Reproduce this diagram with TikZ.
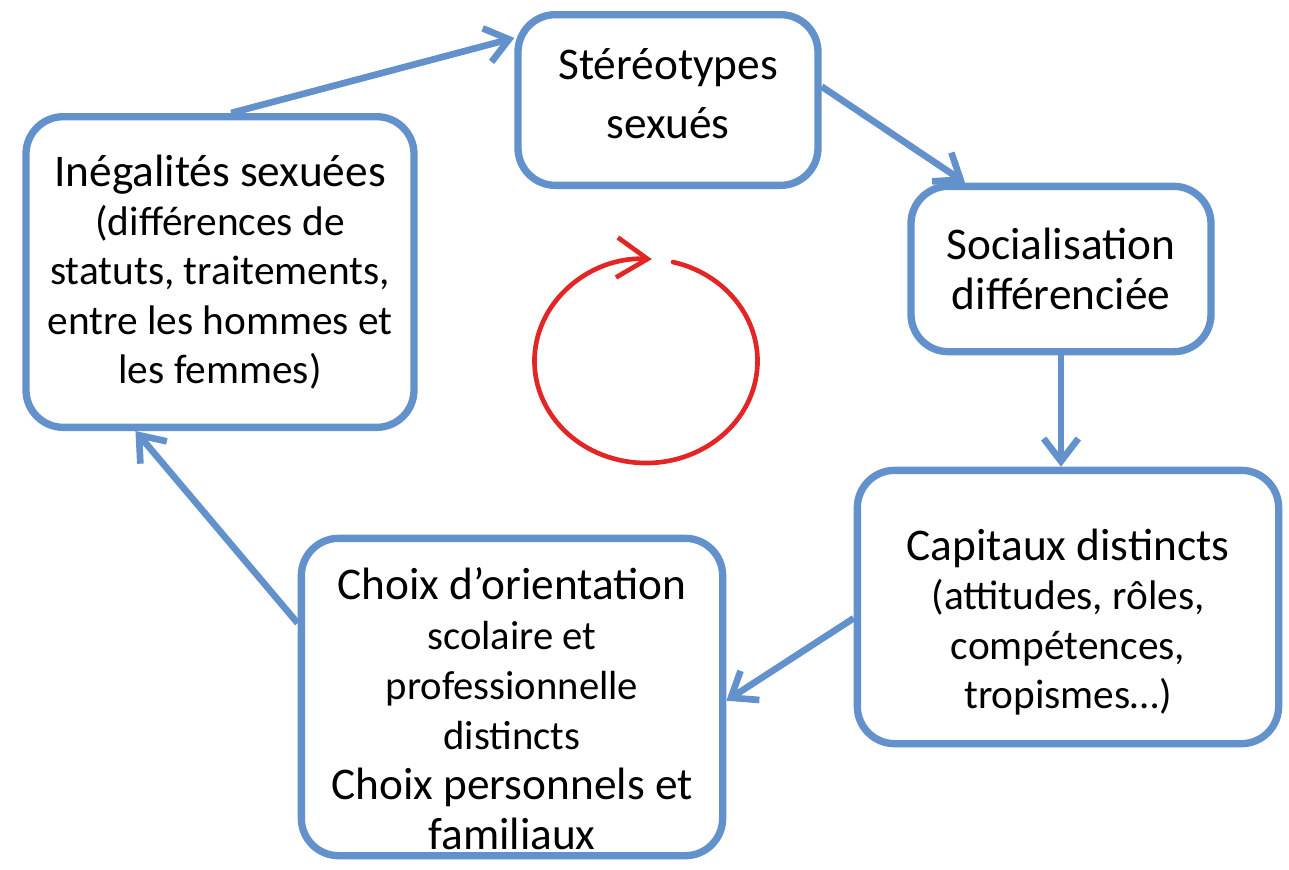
\documentclass[tikz,border=0pt]{standalone}
\usepackage{fontspec}
\setmainfont{Carlito}
\usetikzlibrary{arrows.meta}

\definecolor{bleu}{RGB}{98,145,203}
\definecolor{rouge}{RGB}{226,38,38}

\newcommand{\grand}{\fontsize{34}{37.5}\selectfont}

\tikzstyle{etape} = [draw=bleu, line width=5.5pt, rounded corners=28pt, fill=white, align=center, inner sep=0pt, font=\fontsize{34}{37.5}\selectfont]
\tikzstyle{fleche} = [draw=bleu, line width=5pt, -{Straight Barb[length=17pt,width=26pt]}]

\begin{document}
\begin{tikzpicture}[x=0.75pt,y=0.75pt]
\useasboundingbox (0,0) rectangle (1289,-869);

% BOITES
\node [etape, minimum width=225pt, minimum height=128pt, font=\fontsize{34}{44}\selectfont] (stereo) at (668,-100) {St\'er\'eotypes\\sexu\'es\rule[-10pt]{0pt}{1pt}};
\node [etape, minimum width=225pt, minimum height=124pt] (socia) at (1061,-269) {Socialisation\\diff\'erenci\'ee};
\node [etape, minimum width=316pt, minimum height=205pt, font=\fontsize{31}{37}\selectfont] (capit) at (1068,-607) {\rule{0pt}{46pt}{\grand Capitaux distincts}\\(attitudes, r\^oles,\\comp\'etences,\\tropismes…)};
\node [etape, minimum width=316pt, minimum height=238pt, font=\fontsize{30.5}{37.5}\selectfont] (choix) at (512,-697) {\rule{0pt}{41pt}{\grand Choix d’orientation}\\scolaire et\\professionnelle\\distincts\\{\grand Choix personnels et}\\{\grand familiaux}};
\node [etape, minimum width=291pt, minimum height=233pt, font=\fontsize{31}{37}\selectfont] (ineg) at (220,-272) {{\grand In\'egalit\'es sexu\'ees}\\(diff\'erences de\\statuts, traitements,\\entre les hommes et\\les femmes)};

% FLECHES
\draw [fleche] (ineg.86) -- (stereo.158);
\draw [fleche] (stereo.5) -- (socia.138);
\draw [fleche] (socia.south) -- (socia.south |- capit.north);
\draw [fleche] (capit.183) -- (choix.359);
\draw [fleche] (choix.161) -- (ineg.242);

% CYCLE
\draw [rouge, line width=3.5pt, line cap=round, -{Straight Barb[length=23pt,width=30pt]}] (646,-361) ++(76:111.5 and 102) arc [start angle=76, end angle=-273, x radius=111.5, y radius=102];

\end{tikzpicture}
\end{document}
